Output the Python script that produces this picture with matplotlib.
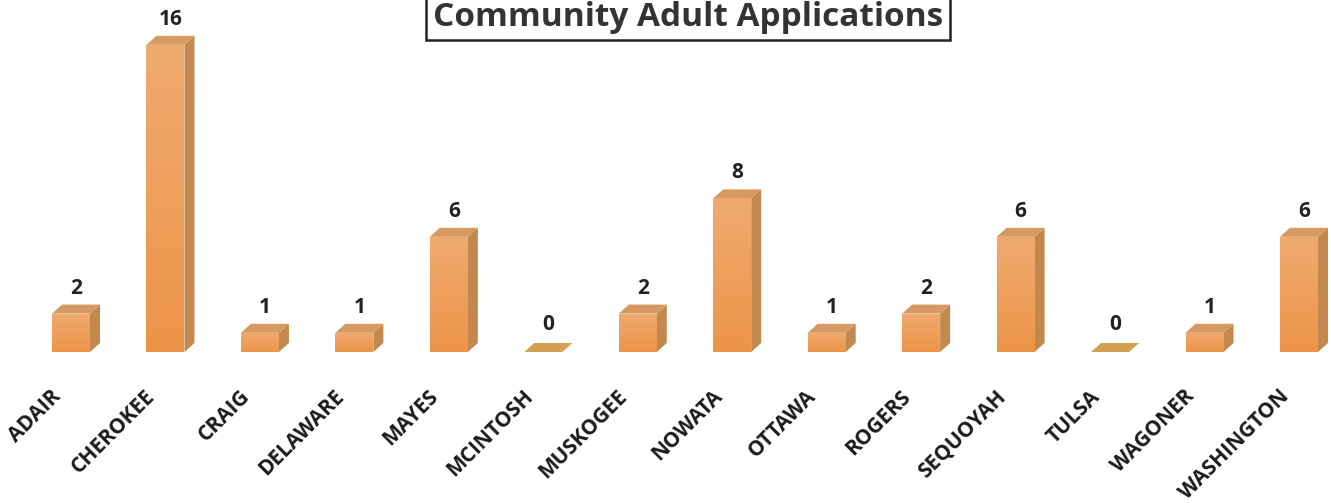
import numpy as np
import matplotlib
matplotlib.use("Agg")
import matplotlib.pyplot as plt
from matplotlib.patches import Polygon
from matplotlib.colors import LinearSegmentedColormap

categories = ["ADAIR", "CHEROKEE", "CRAIG", "DELAWARE", "MAYES", "MCINTOSH", "MUSKOGEE",
              "NOWATA", "OTTAWA", "ROGERS", "SEQUOYAH", "TULSA", "WAGONER", "WASHINGTON"]
values = [2, 16, 1, 1, 6, 0, 2, 8, 1, 2, 6, 0, 1, 6]
title = "Community Adult Applications"

W, H = 1331, 503
fig = plt.figure(figsize=(W / 100, H / 100), dpi=100)
ax = fig.add_axes([0, 0, 1, 1])
ax.set_axis_off()

px_per_unit_x = 94.46
px_per_unit_y = 19.2
x0_px = 71
base_px = H - 352
ax.set_xlim(-x0_px / px_per_unit_x, (W - x0_px) / px_per_unit_x)
ax.set_ylim(-base_px / px_per_unit_y, (H - base_px) / px_per_unit_y)

bw = 38 / px_per_unit_x
dx = 10 / px_per_unit_x
dy = 9 / px_per_unit_y

front_cmap = LinearSegmentedColormap.from_list("f", ["#EC9548", "#F0AA70"])
x = np.arange(len(categories))
bars = ax.bar(x, values, width=bw, color="#EE9F5C", linewidth=0, zorder=2)
grad = np.linspace(0, 1, 100).reshape(-1, 1)
lab_kw = dict(fontsize=15, fontweight="bold", family="Open Sans", color="#222222")
for b, v, xi in zip(bars, values, x):
    l = xi - bw / 2
    r = xi + bw / 2
    if v > 0:
        im = ax.imshow(grad, cmap=front_cmap, origin="lower", aspect="auto",
                       extent=[l, r, 0, v], zorder=3)
        im.set_clip_path(b)
        side = Polygon([(r, 0), (r + dx, dy), (r + dx, v + dy), (r, v)], closed=True,
                       facecolor="#C2884E", edgecolor="none", zorder=2)
        ax.add_patch(side)
        top = Polygon([(l, v), (l + dx, v + dy), (r + dx, v + dy), (r, v)], closed=True,
                      facecolor="#D49A62", edgecolor="none", zorder=2)
        ax.add_patch(top)
        ax.text(xi + dx / 2, v + dy + 6 / px_per_unit_y, str(v), ha="center", va="bottom", **lab_kw)
    else:
        top = Polygon([(l, 0), (l + dx, dy), (r + dx, dy), (r, 0)], closed=True,
                      facecolor="#D4A052", edgecolor="none", zorder=2)
        ax.add_patch(top)
        ax.text(xi + dx / 2, dy + 8 / px_per_unit_y, str(v), ha="center", va="bottom", **lab_kw)
    ax.text(xi - 6 / px_per_unit_x, -34 / px_per_unit_y, categories[xi], rotation=45,
            ha="right", va="top", fontsize=15, fontweight="bold", family="Open Sans",
            color="#1a1a1a")

fig.text(688 / W, 1 - 17 / H, title, ha="center", va="center", fontsize=24,
         fontweight="bold", family="Open Sans", color="#333333",
         bbox=dict(boxstyle="square,pad=0.2", facecolor="white", edgecolor="#222222", linewidth=1.8))

fig.savefig("out.png", dpi=100)
